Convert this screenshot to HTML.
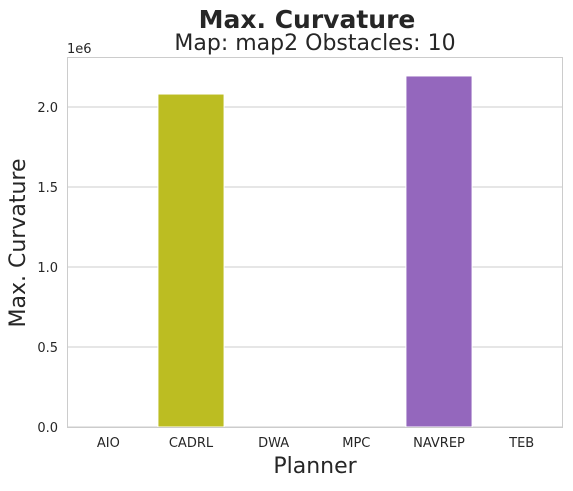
<!DOCTYPE html>
<html>
<head>
<meta charset="utf-8">
<style>
  html,body{margin:0;padding:0;background:#fff;}
  body{width:573px;height:486px;overflow:hidden;font-family:"Liberation Sans","DejaVu Sans",sans-serif;}
  svg text{font-family:"DejaVu Sans","Liberation Sans",sans-serif;fill:#262626;}
</style>
</head>
<body>
<svg id="chart" width="573" height="486" xmlns="http://www.w3.org/2000/svg">
  <text x="307" y="28" text-anchor="middle" font-size="25" font-weight="bold">Max. Curvature</text>
  <text x="315" y="50" text-anchor="middle" font-size="22">Map: map2 Obstacles: 10</text>
  <g id="grid"></g>
  <g id="bars"></g>
  <rect x="67.5" y="57.5" width="495" height="370" fill="none" stroke="#cccccc" stroke-width="1"/>
  <g id="yticks"></g>
  <g id="xticks"></g>
  <text x="67" y="53" font-size="13">1e6</text>
  <text transform="translate(25,243) rotate(-90)" text-anchor="middle" font-size="22">Max. Curvature</text>
  <text x="315" y="473" text-anchor="middle" font-size="22">Planner</text>
</svg>
<script>
const categories = ["AIO","CADRL","DWA","MPC","NAVREP","TEB"];
const values = [0, 2.081e6, 0, 0, 2.194e6, 0];
const colors = ["#1f77b4","#bcbd22","#2ca02c","#d62728","#9467bd","#8c564b"];
const yTicks = [0, 0.5e6, 1.0e6, 1.5e6, 2.0e6];
const yTickLabels = ["0.0","0.5","1.0","1.5","2.0"];

const NS = "http://www.w3.org/2000/svg";
const plotLeft = 67, plotRight = 563, plotTop = 57, plotBottom = 427;
const yMax = 2.3125e6;
function yScale(v){ return plotBottom - (v / yMax) * (plotBottom - plotTop); }
const band = (plotRight - plotLeft) / categories.length;
function xCenter(i){ return plotLeft + band * (i + 0.5); }

const grid = document.getElementById('grid');
const yt = document.getElementById('yticks');
yTicks.forEach((t, i) => {
  const y = yScale(t);
  const ln = document.createElementNS(NS, 'line');
  
  
  ln.setAttribute('x1', plotLeft); ln.setAttribute('x2', plotRight);
  ln.setAttribute('y1', y); ln.setAttribute('y2', y);
  ln.setAttribute('stroke', '#cccccc'); ln.setAttribute('stroke-width', '1');
  grid.appendChild(ln);
  const tx = document.createElementNS(NS, 'text');
  
  
  tx.setAttribute('x', plotLeft - 9); tx.setAttribute('y', y + 5);
  tx.setAttribute('text-anchor', 'end'); tx.setAttribute('font-size', '13');
  tx.textContent = yTickLabels[i];
  yt.appendChild(tx);
});

const bars = document.getElementById('bars');
const xt = document.getElementById('xticks');
categories.forEach((c, i) => {
  const w = band * 0.8;
  const y = yScale(values[i]);
  const r = document.createElementNS(NS, 'rect');
  
  
  r.setAttribute('x', xCenter(i) - w / 2); r.setAttribute('width', w);
  r.setAttribute('y', y); r.setAttribute('height', plotBottom - y);
  r.setAttribute('fill', colors[i]);
  r.setAttribute('stroke', '#ffffff'); r.setAttribute('stroke-width', '1');
  bars.appendChild(r);
  const tx = document.createElementNS(NS, 'text');
  
  
  tx.setAttribute('x', xCenter(i)); tx.setAttribute('y', plotBottom + 20);
  tx.setAttribute('text-anchor', 'middle'); tx.setAttribute('font-size', '13');
  tx.textContent = c;
  xt.appendChild(tx);
});
</script>
</body>
</html>
